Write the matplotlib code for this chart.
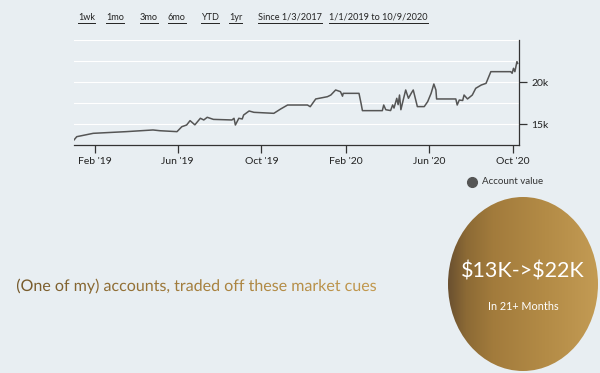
import numpy as np
import pandas as pd
import matplotlib
matplotlib.use("Agg")
import matplotlib.pyplot as plt
from matplotlib.patches import Ellipse, PathPatch
from matplotlib.textpath import TextPath
from matplotlib.font_manager import FontProperties
from matplotlib.colors import LinearSegmentedColormap

# account value
dates = ["2019-01-01", "2019-01-05", "2019-01-29", "2019-03-18", "2019-04-26", "2019-05-06",
         "2019-05-31", "2019-06-07", "2019-06-14", "2019-06-19", "2019-06-26", "2019-07-04",
         "2019-07-09", "2019-07-14", "2019-07-23", "2019-08-19", "2019-08-22", "2019-08-24",
         "2019-08-29", "2019-09-03", "2019-09-05", "2019-09-13", "2019-09-20", "2019-10-19",
         "2019-10-29", "2019-11-08", "2019-12-07", "2019-12-11", "2019-12-19", "2019-12-31",
         "2020-01-05", "2020-01-10", "2020-01-17", "2020-01-24", "2020-01-27", "2020-01-28",
         "2020-02-20", "2020-02-23", "2020-02-25", "2020-03-25", "2020-03-27", "2020-03-30",
         "2020-04-06", "2020-04-09", "2020-04-11", "2020-04-15", "2020-04-17", "2020-04-19",
         "2020-04-21", "2020-04-25", "2020-04-28", "2020-05-02", "2020-05-06", "2020-05-09",
         "2020-05-15", "2020-05-25", "2020-05-30", "2020-06-04", "2020-06-08", "2020-06-11",
         "2020-06-12", "2020-07-10", "2020-07-12", "2020-07-15", "2020-07-20", "2020-07-22",
         "2020-07-27", "2020-08-03", "2020-08-08", "2020-08-16", "2020-08-23", "2020-08-30",
         "2020-09-28", "2020-09-30", "2020-10-02", "2020-10-04", "2020-10-07", "2020-10-08"]
values = [13100, 13490, 13890, 14090, 14290, 14200,
          14090, 14680, 14880, 15400, 14900, 15680,
          15480, 15800, 15550, 15480, 15680, 14880,
          15680, 15600, 16070, 16550, 16390, 16270,
          16790, 17260, 17260, 17060, 17980, 18170,
          18250, 18450, 19050, 18850, 18310, 18650,
          18650, 17460, 16590, 16590, 17260, 16700,
          16600, 17270, 16900, 18060, 17300, 18450,
          16700, 18060, 19050, 18060, 18650, 19050,
          17070, 17070, 17660, 18650, 19760, 19050,
          17980, 17980, 17260, 17850, 17800, 18450,
          17980, 18450, 19250, 19640, 19840, 21230,
          21230, 21040, 21630, 21230, 22420, 22220]

range_links = ["1wk", "1mo", "3mo", "6mo", "YTD", "1yr", "Since 1/3/2017", "1/1/2019 to 10/9/2020"]
link_x = [78, 106, 140, 168, 201, 229, 258, 329]
x_ticks = ["2019-02-01", "2019-06-01", "2019-10-01", "2020-02-01", "2020-06-01", "2020-10-01"]
x_labels = ["Feb '19", "Jun '19", "Oct '19", "Feb '20", "Jun '20", "Oct '20"]
y_ticks = [15000, 20000]
y_labels = ["15k", "20k"]
grid_vals = [12500, 17500, 22500, 25000]

bg = "#e8eef2"
W, H = 600, 373
fig = plt.figure(figsize=(6, 3.73), dpi=100, facecolor=bg)

ax = fig.add_axes([74 / W, 1 - 145 / H, (519 - 74) / W, (145 - 40) / H])
ax.set_facecolor(bg)
ax.plot(pd.to_datetime(dates), values, color="#555555", lw=1.1)
ax.set_xlim(pd.Timestamp("2019-01-01"), pd.Timestamp("2020-10-10"))
ax.set_ylim(12500, 25000)
ax.set_yticks(y_ticks)
ax.set_yticklabels(y_labels)
ax.yaxis.set_minor_locator(matplotlib.ticker.FixedLocator(grid_vals))
ax.yaxis.grid(True, which="both", color="white", lw=0.8)
ax.set_axisbelow(True)
ax.tick_params(axis="y", which="minor", length=0)
ax.yaxis.tick_right()
ax.set_xticks(pd.to_datetime(x_ticks))
ax.set_xticklabels(x_labels)
for s in ["top", "left"]:
    ax.spines[s].set_visible(False)
for s in ["bottom", "right"]:
    ax.spines[s].set_color("#333333")
    ax.spines[s].set_linewidth(0.9)
ax.tick_params(axis="both", which="major", length=6, width=0.9, color="#333333",
               labelsize=7.5, labelcolor="#222222", pad=3)
for lbl in ax.get_xticklabels() + ax.get_yticklabels():
    lbl.set_family("Lato")

# overlay in pixel coordinates
ov = fig.add_axes([0, 0, 1, 1], facecolor="none")
ov.set_xlim(0, W)
ov.set_ylim(0, H)
ov.axis("off")

fig.canvas.draw()
renderer = fig.canvas.get_renderer()
for name, x in zip(range_links, link_x):
    t = ov.text(x, H - 17, name, fontsize=6.6, family="Lato", color="#222222", va="center")
    bb = t.get_window_extent(renderer)
    ov.plot([bb.x0, bb.x1], [H - 22.5, H - 22.5], color="#222222", lw=0.7)

# legend
ov.plot([472], [H - 182], "o", color="#555555", ms=7)
ov.text(482, H - 182, "Account value", fontsize=7, family="Lato", color="#333333", va="center")

grad = np.linspace(0, 1, 256).reshape(1, -1)

# caption with gradient fill
fp = FontProperties(family="Lato")
tp = TextPath((0, 0), "(One of my) accounts, traded off these market cues", size=16, prop=fp)
ext = tp.get_extents()
sc = (376 - 17) / ext.width
verts = tp.vertices.copy()
verts[:, 0] = 17 + (verts[:, 0] - ext.x0) * sc
verts[:, 1] = (H - 291) + verts[:, 1] * sc
patch = PathPatch(matplotlib.path.Path(verts, tp.codes), fc="none", ec="none")
ov.add_patch(patch)
im = ov.imshow(grad, cmap=LinearSegmentedColormap.from_list("cap", ["#765a2c", "#a6803e", "#c39a50"]),
               extent=[17, 376, H - 300, H - 270], aspect="auto", interpolation="bilinear")
im.set_clip_path(patch)

# gold ellipse
gold = LinearSegmentedColormap.from_list(
    "gold", [(0, "#6a5030"), (0.12, "#8c6a35"), (0.3, "#a27b3c"), (0.65, "#b38b46"), (1, "#c39b54")])
cx, cy, ew, eh = 523, H - 284, 150, 174
ell = Ellipse((cx, cy), ew, eh, fc="none", ec="none")
ov.add_patch(ell)
im2 = ov.imshow(grad, cmap=gold, extent=[cx - ew / 2, cx + ew / 2, cy - eh / 2, cy + eh / 2],
                aspect="auto", interpolation="bilinear")
im2.set_clip_path(ell)
ov.text(cx, H - 272, r"\$13K->\$22K", fontsize=15.5, family="Lato", color="white",
        ha="center", va="center")
ov.text(cx, H - 307, "In 21+ Months", fontsize=7.8, family="Lato", color="white",
        ha="center", va="center")
ov.set_xlim(0, W)
ov.set_ylim(0, H)

fig.savefig("out.png", dpi=100, facecolor=bg)
